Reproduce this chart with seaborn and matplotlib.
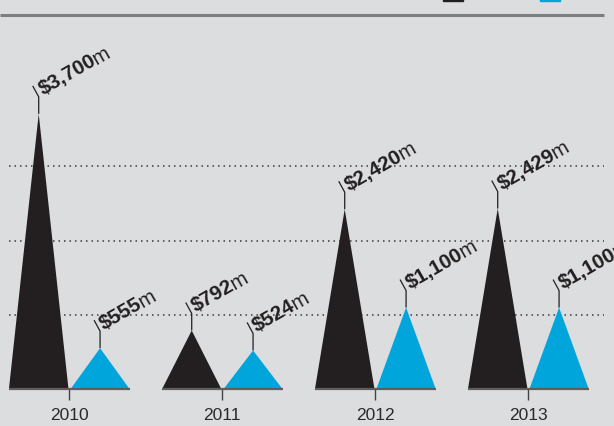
import numpy as np
import matplotlib
matplotlib.use("Agg")
import matplotlib.pyplot as plt
import matplotlib.transforms as mtransforms
from matplotlib.font_manager import FontProperties
from matplotlib.patches import Rectangle
import seaborn as sns

# data (US$ millions)
years = ["2010", "2011", "2012", "2013"]
series_dark = [3700, 792, 2420, 2429]
series_blue = [555, 524, 1100, 1100]
grid_values = [1000, 2000, 3000]

BG = "#dcdddf"
DARK = "#231f20"
BLUE = "#00a5db"
GREY = "#5e5e5e"

sns.set_theme(style="white", rc={"axes.facecolor": BG, "figure.facecolor": BG})
plt.rcParams["font.family"] = ["Liberation Sans", "DejaVu Sans"]

fig = plt.figure(figsize=(6.14, 4.27), dpi=100)
ax = fig.add_axes([0, 0, 1, 1])
ax.set_xlim(-0.451, 3.562)
ax.set_ylim(-490, 5242)
sns.despine(ax=ax, left=True, top=True, right=True, bottom=True)
ax.set_yticks([])

half = 0.195  # half width of each triangle (group spacing = 1)
x = np.arange(len(years))


def triangle(ax, cx, value, color):
    ax.fill([cx - half, cx, cx + half], [0, value, 0], color=color, lw=0, zorder=3)


def label(ax, cx, value):
    # leader line: vertical then slanted up-left, then rotated value text
    base = ax.transData
    pts = [(0, 0), (0, 17), (-6, 28)]
    xs, ys = [], []
    for dx, dy in pts:
        disp = base.transform((cx, value)) + np.array([dx, dy])
        xd, yd = ax.transData.inverted().transform(disp)
        xs.append(xd)
        ys.append(yd)
    ax.plot(xs, ys, color=DARK, lw=0.9, zorder=4, solid_capstyle="butt")

    rot = 30
    fs = 14.8
    ox, oy = 4, 19
    bold = f"${value:,}"
    tr = mtransforms.offset_copy(base, fig=fig, x=ox, y=oy, units="dots")
    ax.text(cx, value, bold, transform=tr, rotation=rot, rotation_mode="anchor",
            ha="left", va="baseline", fontsize=fs, fontweight="bold",
            color=DARK, zorder=5)
    renderer = fig.canvas.get_renderer()
    prop = FontProperties(family="Liberation Sans", weight="bold", size=fs)
    w, _, _ = renderer.get_text_width_height_descent(bold, prop, ismath=False)
    w -= 0.5
    ang = np.deg2rad(rot)
    tr2 = mtransforms.offset_copy(base, fig=fig, x=ox + w * np.cos(ang),
                                  y=oy + w * np.sin(ang), units="dots")
    ax.text(cx, value, "m", transform=tr2, rotation=rot, rotation_mode="anchor",
            ha="left", va="baseline", fontsize=fs, color=DARK, zorder=5)


# dotted gridlines
ax.hlines(grid_values, -0.39, 3.497, colors="#3a3a3a", lw=1.1,
          linestyles=(0, (1, 2.6)), zorder=1)

for i, (d, b) in enumerate(zip(series_dark, series_blue)):
    cd = i - half - 0.003
    cb = i + half + 0.008
    triangle(ax, cd, d, DARK)
    triangle(ax, cb, b, BLUE)
    label(ax, cd, d)
    label(ax, cb, b)
    ax.hlines(0, cd - half, cb + half, colors=GREY, lw=1.6, zorder=4)

# year ticks hanging from the baseline
ax.spines["bottom"].set_position(("data", 0))
ax.set_xticks(x)
ax.set_xticklabels(years)
ax.tick_params(axis="x", bottom=True, length=8, width=1, color="#444444",
               direction="out", pad=4.5, labelsize=12.5, labelcolor="#2a2a2a")

# top rule
ax.hlines(5027, -0.451, 3.497, colors="#7f7f80", lw=2.2, zorder=2)

# legend keys (cut off at the top of the image)
for x0, col in [(443, DARK), (540, BLUE)]:
    fig.patches.append(Rectangle((x0 / 614, 1 - 2 / 427), 20 / 614, 2 / 427,
                                 transform=fig.transFigure, color=col))

fig.savefig("out.png", dpi=100, facecolor=BG)
